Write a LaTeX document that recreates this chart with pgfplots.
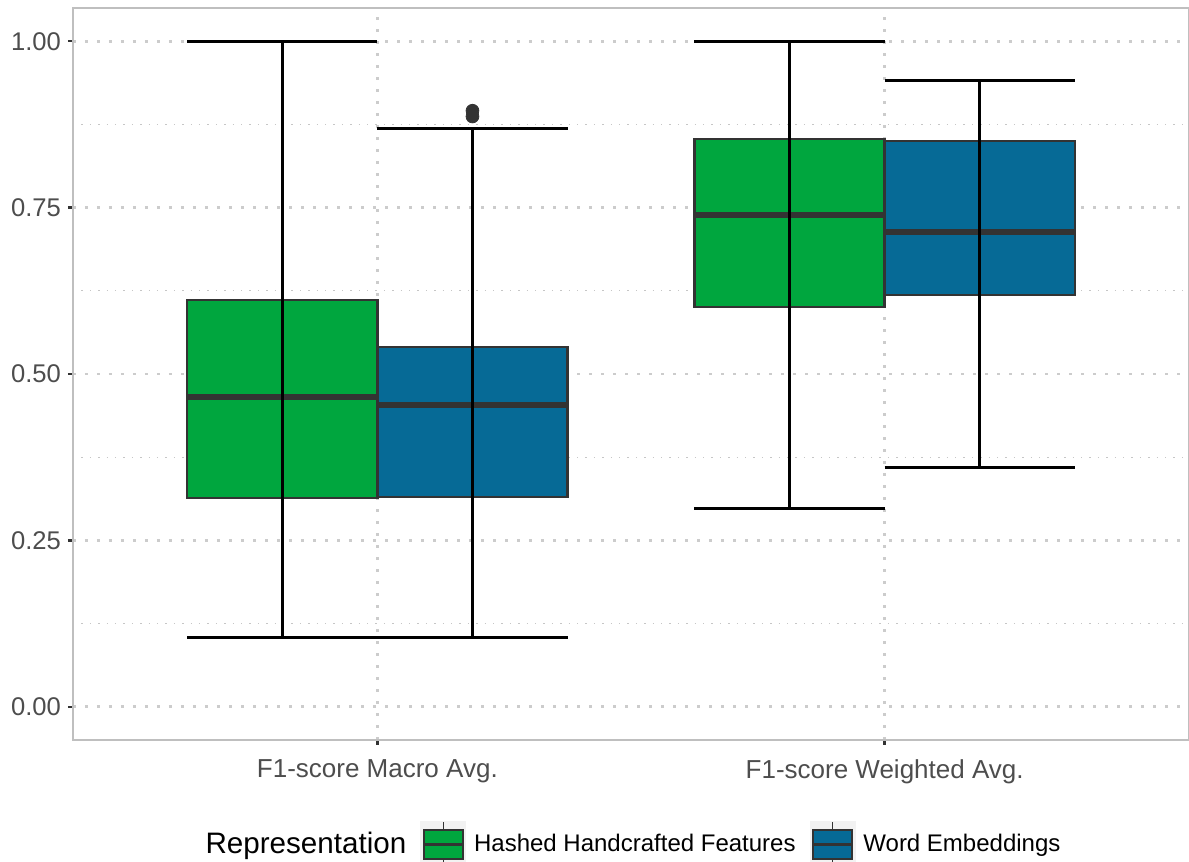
\documentclass[border=0pt]{standalone}
\usepackage{fontspec}
\setmainfont{Liberation Sans}
\usepackage{pgfplots}
\pgfplotsset{compat=1.18}
\usepgfplotslibrary{statistics}

\definecolor{hhf}{RGB}{0,166,62}
\definecolor{wemb}{RGB}{6,106,150}
\definecolor{dark}{RGB}{51,51,51}
\definecolor{gray30}{RGB}{77,77,77}
\definecolor{keybg}{RGB}{242,242,242}

% vertical box, median, then errorbar-style whiskers drawn through the box
\pgfplotsset{
  ggbox/.style={
    boxplot/draw direction=y,
    boxplot/draw/lower whisker/.code={},
    boxplot/draw/upper whisker/.code={},
    boxplot/draw/median/.code={},
    boxplot/draw/box/.code={%
      \draw[fill=#1, draw=dark, line width=1.15pt]
        (boxplot box cs:\pgfplotsboxplotvalue{lower quartile},0) rectangle
        (boxplot box cs:\pgfplotsboxplotvalue{upper quartile},1);
      \draw[dark, line width=3pt]
        (boxplot box cs:\pgfplotsboxplotvalue{median},0) --
        (boxplot box cs:\pgfplotsboxplotvalue{median},1);
      \draw[black, line width=1.5pt]
        (boxplot box cs:\pgfplotsboxplotvalue{lower whisker},0.5) --
        (boxplot box cs:\pgfplotsboxplotvalue{upper whisker},0.5);
      \draw[black, line width=1.4pt]
        (boxplot box cs:\pgfplotsboxplotvalue{lower whisker},0) --
        (boxplot box cs:\pgfplotsboxplotvalue{lower whisker},1);
      \draw[black, line width=1.4pt]
        (boxplot box cs:\pgfplotsboxplotvalue{upper whisker},0) --
        (boxplot box cs:\pgfplotsboxplotvalue{upper whisker},1);
    },
  },
  keyimg/.style={
    legend image code/.code={%
      \fill[keybg] (0pt,-11.5pt) rectangle (22.5pt,11.5pt);
      \draw[dark, line width=0.7pt] (11.25pt,-11.5pt) -- (11.25pt,11.5pt);
      \draw[dark, line width=1.2pt, fill=#1] (1.5pt,-7.2pt) rectangle (21pt,7.2pt);
      \draw[dark, line width=1.5pt] (1.5pt,0pt) -- (21pt,0pt);
    },
  },
}

\begin{document}
\begin{tikzpicture}
\begin{axis}[
  name=ax,
  width=558pt, height=366pt, scale only axis,
  xmin=0.4, xmax=2.6, ymin=-0.05, ymax=1.05,
  xtick={1,2},
  xticklabels={F1-score Macro Avg., F1-score Weighted Avg.},
  ytick={0,0.25,0.5,0.75,1},
  yticklabels={0.00,0.25,0.50,0.75,1.00},
  minor ytick={0.125,0.375,0.625,0.875},
  xmajorgrids, ymajorgrids, yminorgrids,
  major grid style={gray!40, line width=1.3pt, dash pattern=on 1.3pt off 4.7pt},
  minor grid style={gray!45, line width=0.6pt, dash pattern=on 0.7pt off 3.5pt},
  axis line style={gray!50, line width=1.1pt},
  tick align=outside, major tick length=2.5pt, minor tick length=0pt,
  tick style={dark, line width=1.2pt},
  xtick pos=left, ytick pos=left,
  ticklabel style={font=\fontsize{12.8}{14}\selectfont, text=gray30},
  xticklabel style={font=\fontsize{13}{14}\selectfont, yshift=-4pt},
  legend columns=-1,
  legend style={draw=none, fill=none, at={(0.5,-0.143)}, anchor=center,
    font=\fontsize{12}{13}\selectfont,
    /tikz/every even column/.append style={column sep=5pt},
    /tikz/every odd column/.append style={column sep=2pt}},
]
% F1-score Macro Avg.
\addplot[forget plot, ggbox=hhf, boxplot prepared={draw position=0.8125,
  lower whisker=0.1036, lower quartile=0.3138, median=0.4655,
  upper quartile=0.611, upper whisker=1.0, box extend=0.375}] coordinates {};
\addplot[forget plot, ggbox=wemb, boxplot prepared={draw position=1.1875,
  lower whisker=0.1036, lower quartile=0.315, median=0.4535,
  upper quartile=0.5405, upper whisker=0.869, box extend=0.375}] coordinates {};
% F1-score Weighted Avg.
\addplot[forget plot, ggbox=hhf, boxplot prepared={draw position=1.8125,
  lower whisker=0.2973, lower quartile=0.6006, median=0.7387,
  upper quartile=0.853, upper whisker=1.0, box extend=0.375}] coordinates {};
\addplot[forget plot, ggbox=wemb, boxplot prepared={draw position=2.1875,
  lower whisker=0.3589, lower quartile=0.6186, median=0.7132,
  upper quartile=0.850, upper whisker=0.9414, box extend=0.375}] coordinates {};
% outliers
\addplot[forget plot, only marks, mark=*, mark size=3.2pt,
  mark options={fill=dark, draw=dark}] coordinates {(1.1875,0.887) (1.1875,0.8956)};

\addlegendimage{empty legend}
\addlegendentry{\fontsize{14.8}{16}\selectfont Representation}
\addlegendimage{keyimg=hhf}
\addlegendentry{Hashed Handcrafted Features}
\addlegendimage{keyimg=wemb}
\addlegendentry{Word Embeddings}
\end{axis}
\pgfresetboundingbox
\path[use as bounding box] ([shift={(-36.5pt,-61pt)}]ax.south west)
  rectangle ([shift={(0pt,4pt)}]ax.north east);
\end{tikzpicture}
\end{document}
